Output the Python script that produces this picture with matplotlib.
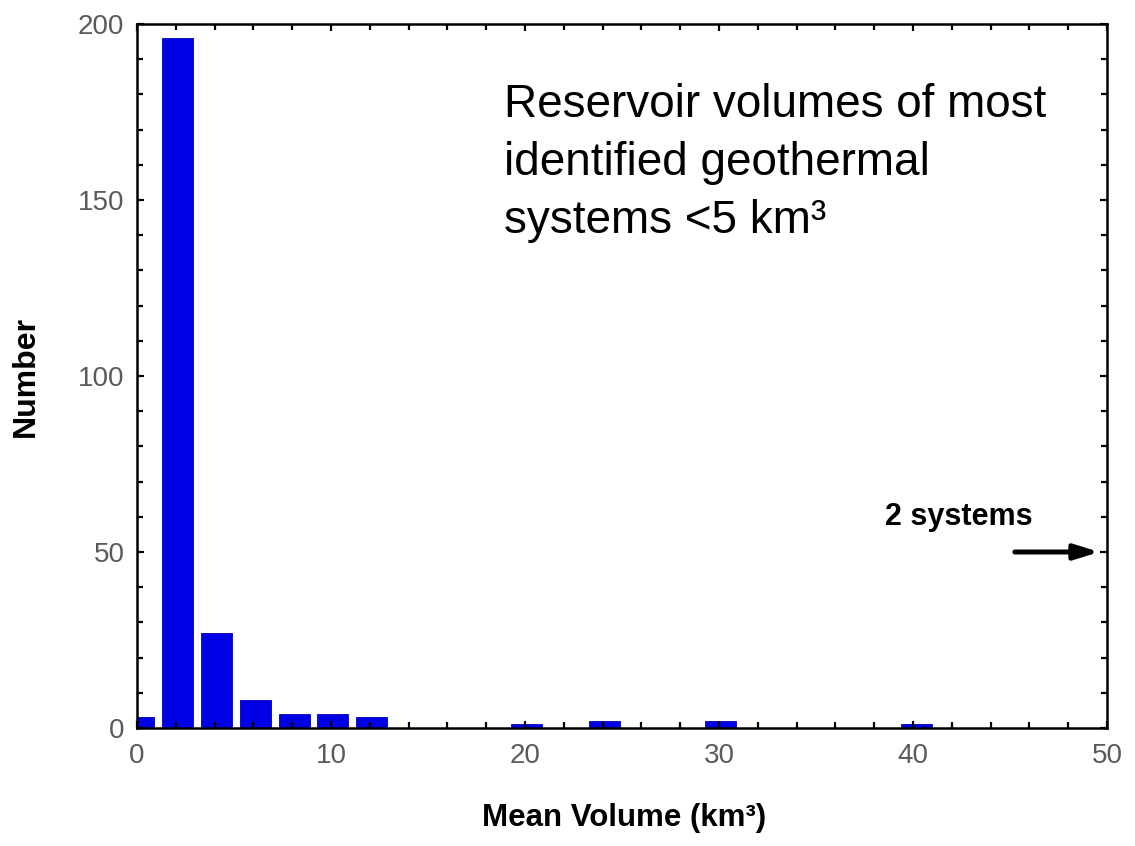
import numpy as np
import matplotlib.pyplot as plt
from matplotlib.ticker import MultipleLocator

plt.rcParams['font.family'] = ['Liberation Sans', 'DejaVu Sans']

# histogram bins (km3) and counts
bin_centers = [0.1, 2.1, 4.1, 6.1, 8.1, 10.1, 12.1, 20.1, 24.1, 30.1, 40.2]
counts = [3, 196, 27, 8, 4, 4, 3, 1, 2, 2, 1]

fig = plt.figure(figsize=(11.35, 8.46), dpi=100)
ax = fig.add_axes([0.1207, 0.1395, 0.8546, 0.8321])

ax.bar(bin_centers, counts, width=1.6, color='#0000e6', edgecolor='#0000b0', linewidth=0.6)

ax.set_xlim(0, 50)
ax.set_ylim(0, 200)
ax.xaxis.set_major_locator(MultipleLocator(10))
ax.xaxis.set_minor_locator(MultipleLocator(2))
ax.yaxis.set_major_locator(MultipleLocator(50))
ax.yaxis.set_minor_locator(MultipleLocator(10))
ax.tick_params(which='both', direction='in', top=True, right=True, width=1.6, color='black')
ax.tick_params(which='major', length=5, labelsize=20, labelcolor='#5a5a5a')
ax.tick_params(axis='x', which='major', pad=10.5)
ax.tick_params(axis='y', which='major', pad=9)
ax.tick_params(which='minor', length=4)
for s in ax.spines.values():
    s.set_linewidth(1.8)

ax.text(-0.1144, 0.5, 'Number', transform=ax.transAxes, rotation=90,
        fontsize=23, fontweight='bold', ha='center', va='center')
ax.text(0.502, -0.106, 'Mean Volume (km³)', transform=ax.transAxes,
        fontsize=22.5, fontweight='bold', ha='center', va='top')

# va='baseline' on multi-line text anchors the last line
ax.text(18.9, 140.6, 'Reservoir volumes of most\nidentified geothermal\nsystems <5 km³',
        fontsize=33, va='baseline', ha='left', linespacing=1.42)

ax.text(38.55, 57.7, '2 systems', fontsize=22, fontweight='bold', ha='left', va='baseline')
ax.annotate('', xy=(49.6, 50), xytext=(45.25, 50),
            arrowprops=dict(arrowstyle='-|>,head_length=0.8,head_width=0.25', color='black',
                            lw=3.6, mutation_scale=18, shrinkA=0, shrinkB=0))

fig.savefig('out.png', dpi=100)
